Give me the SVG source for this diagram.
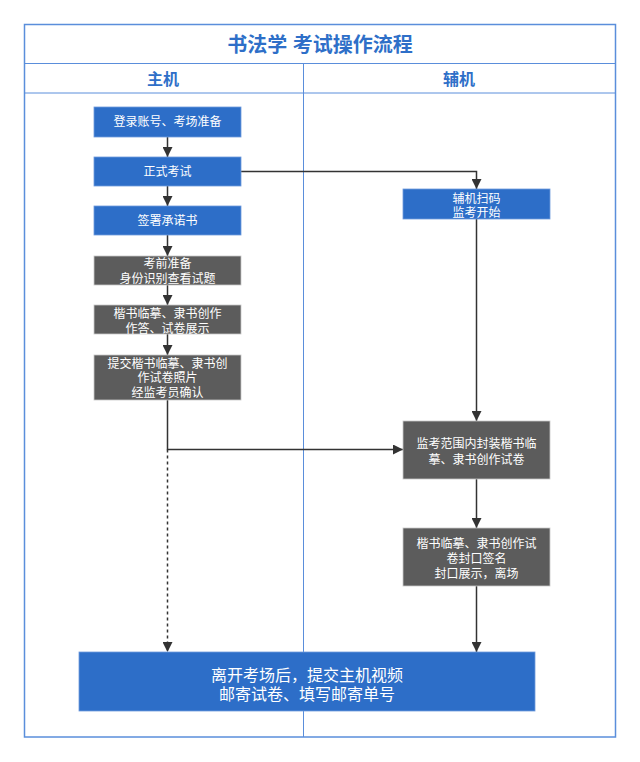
<svg xmlns="http://www.w3.org/2000/svg" width="640" height="762" viewBox="0 0 640 762">
<defs>
<marker id="ah" viewBox="0 0 10 10" refX="10" refY="5" markerWidth="10" markerHeight="10" markerUnits="userSpaceOnUse" orient="auto">
<path d="M0,0 L10,5 L0,10 z" fill="#333333"/>
</marker>
<style>
.frame{fill:none;stroke:#5A8EDB;stroke-width:1.5}
.ln{fill:none;stroke:#5A8EDB;stroke-width:1}
.title{font-family:"Liberation Sans","Noto Sans CJK SC",sans-serif;font-weight:bold;fill:#2E6FC8;text-anchor:middle}
.blue{fill:#2D6EC8;stroke:#6F9BDD;stroke-width:0.8}
.gray{fill:#5C5C5C;stroke:#C8C8C8;stroke-width:0.8}
.t{font-family:"Liberation Sans","Noto Sans CJK SC",sans-serif;font-size:12px;fill:#FFFFFF;text-anchor:middle}
.tb{font-family:"Liberation Sans","Noto Sans CJK SC",sans-serif;font-size:16px;fill:#FFFFFF;text-anchor:middle}
.c{fill:none;stroke:#333333;stroke-width:1.5}
</style>
</defs>
<rect x="0" y="0" width="640" height="762" fill="#FFFFFF"/>
<g id="frame">
<rect class="frame" x="24.5" y="24.5" width="591" height="712.5"/>
<line class="ln" x1="24.5" y1="63.5" x2="615.5" y2="63.5"/>
<line class="ln" x1="24.5" y1="93" x2="615.5" y2="93"/>
<line class="ln" x1="303.5" y1="63.5" x2="303.5" y2="737"/>
<text class="title" x="320" y="52" font-size="20">书法学 考试操作流程</text>
<text class="title" x="163" y="85" font-size="16">主机</text>
<text class="title" x="459" y="85" font-size="16">辅机</text>
</g>
<g id="connectors">
<line class="c" x1="167.5" y1="137" x2="167.5" y2="157" marker-end="url(#ah)"/>
<line class="c" x1="167.5" y1="186" x2="167.5" y2="206" marker-end="url(#ah)"/>
<line class="c" x1="167.5" y1="235" x2="167.5" y2="256" marker-end="url(#ah)"/>
<line class="c" x1="167.5" y1="285" x2="167.5" y2="305" marker-end="url(#ah)"/>
<line class="c" x1="167.5" y1="334" x2="167.5" y2="355" marker-end="url(#ah)"/>
<polyline class="c" points="241,171.5 476.5,171.5 476.5,189" marker-end="url(#ah)"/>
<line class="c" x1="476.5" y1="219" x2="476.5" y2="421" marker-end="url(#ah)"/>
<polyline class="c" points="167.5,400 167.5,449.5 403,449.5" marker-end="url(#ah)"/>
<line class="c" x1="167.5" y1="449.5" x2="167.5" y2="652" stroke-dasharray="3,3" marker-end="url(#ah)"/>
<line class="c" x1="476.5" y1="479" x2="476.5" y2="528" marker-end="url(#ah)"/>
<line class="c" x1="476.5" y1="586" x2="476.5" y2="652" marker-end="url(#ah)"/>
</g>
<g id="n1"><rect class="blue" x="94" y="107" width="147" height="30"/><text class="t" x="167.5" y="126">登录账号、考场准备</text></g>
<g id="n2"><rect class="blue" x="94" y="157" width="147" height="29"/><text class="t" x="167.5" y="176">正式考试</text></g>
<g id="n3"><rect class="blue" x="94" y="206" width="147" height="29"/><text class="t" x="167.5" y="225">签署承诺书</text></g>
<g id="n4"><rect class="gray" x="94" y="256" width="147" height="29"/><text class="t" x="167.5" y="268">考前准备</text><text class="t" x="167.5" y="283">身份识别查看试题</text></g>
<g id="n5"><rect class="gray" x="94" y="305" width="147" height="29"/><text class="t" x="167.5" y="318">楷书临摹、隶书创作</text><text class="t" x="167.5" y="333">作答、试卷展示</text></g>
<g id="n6"><rect class="gray" x="94" y="355" width="147" height="45"/><text class="t" x="167.5" y="368">提交楷书临摹、隶书创</text><text class="t" x="167.5" y="382">作试卷照片</text><text class="t" x="167.5" y="397">经监考员确认</text></g>
<g id="n7"><rect class="blue" x="403" y="189" width="147" height="30"/><text class="t" x="476.5" y="203">辅机扫码</text><text class="t" x="476.5" y="217">监考开始</text></g>
<g id="n8"><rect class="gray" x="403" y="421" width="147" height="58"/><text class="t" x="476.5" y="448">监考范围内封装楷书临</text><text class="t" x="476.5" y="464">摹、隶书创作试卷</text></g>
<g id="n9"><rect class="gray" x="403" y="528" width="147" height="58"/><text class="t" x="476.5" y="548">楷书临摹、隶书创作试</text><text class="t" x="476.5" y="563">卷封口签名</text><text class="t" x="476.5" y="578">封口展示，离场</text></g>
<g id="n10"><rect class="blue" x="79" y="652" width="456" height="59"/><text class="tb" x="307" y="681">离开考场后，提交主机视频</text><text class="tb" x="307" y="700">邮寄试卷、填写邮寄单号</text></g>
</svg>
